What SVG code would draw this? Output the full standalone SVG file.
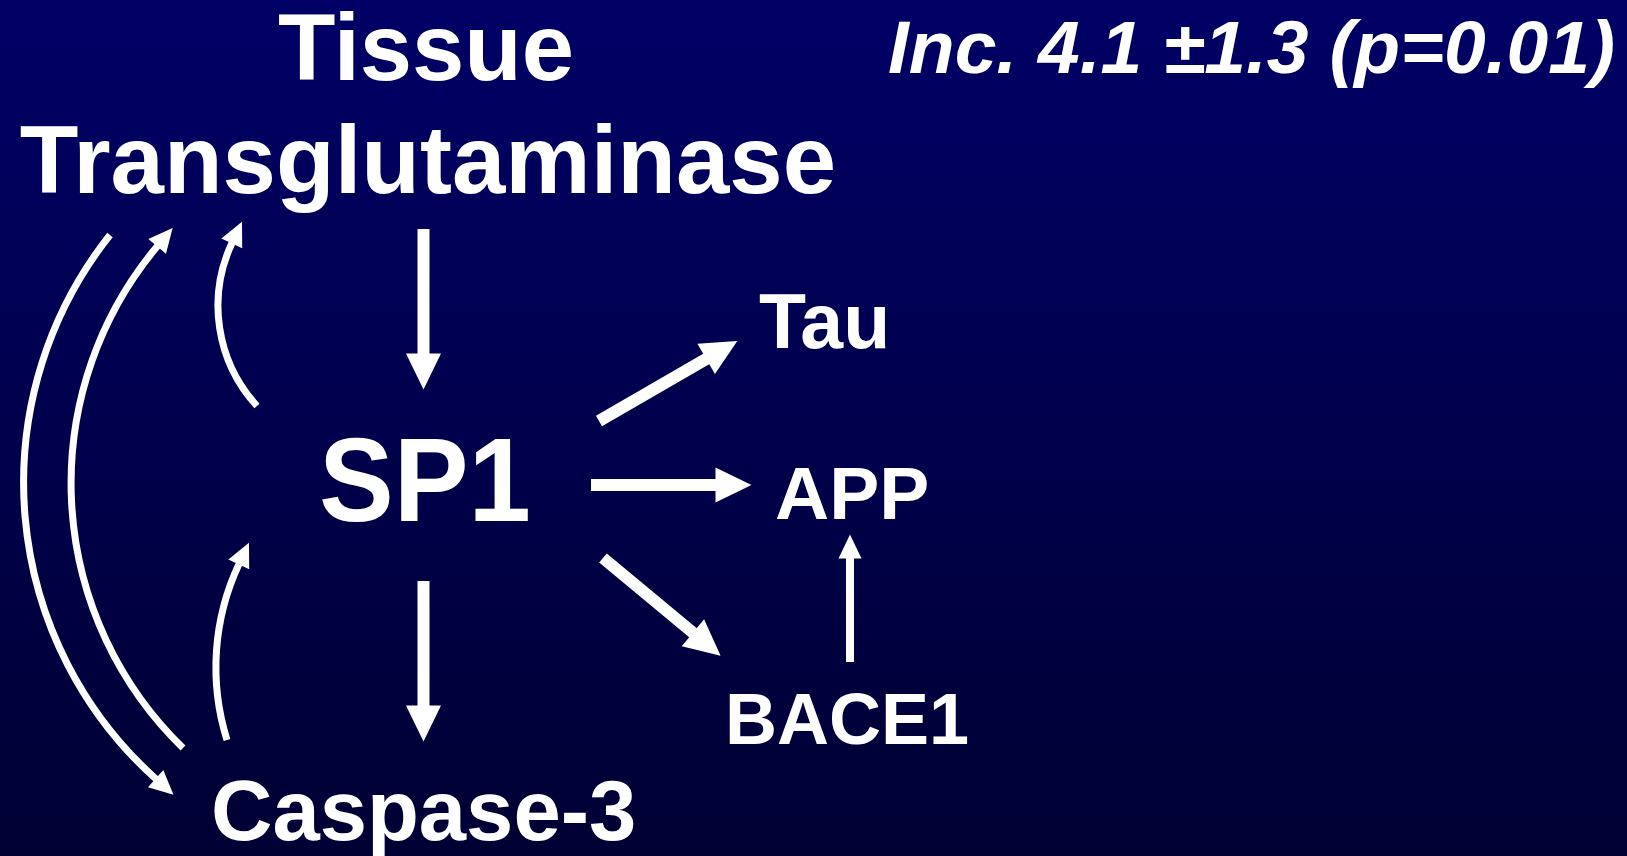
<svg xmlns="http://www.w3.org/2000/svg" width="1627" height="856" viewBox="0 0 1627 856">
<defs>
<linearGradient id="bg" x1="0" y1="0" x2="0" y2="1">
<stop offset="0" stop-color="#000066"/>
<stop offset="1" stop-color="#000033"/>
</linearGradient>
<marker id="big" markerUnits="userSpaceOnUse" markerWidth="36" markerHeight="35" viewBox="0 0 36 35" refX="0.5" refY="17.5" orient="auto" overflow="visible">
<path d="M0,0 L36,17.5 L0,35 Z" fill="#fff"/>
</marker>
<marker id="small" markerUnits="userSpaceOnUse" markerWidth="24" markerHeight="23" viewBox="0 0 24 23" refX="0.5" refY="11.5" orient="auto" overflow="visible">
<path d="M0,0 L24,11.5 L0,23 Z" fill="#fff"/>
</marker>
<style>
.t{font-family:"Liberation Sans",Arial,sans-serif;font-weight:bold;fill:#fff}
.thick{stroke:#fff;stroke-width:12;fill:none;marker-end:url(#big)}
.thin{stroke:#fff;stroke-width:8;fill:none;marker-end:url(#small)}
.arc{stroke:#fff;stroke-width:7;fill:none;marker-end:url(#small)}
</style>
</defs>
<rect x="0" y="0" width="1627" height="856" fill="url(#bg)"/>
<g id="tg"><text class="t" x="426" y="80" font-size="94" text-anchor="middle">Tissue</text><text class="t" x="428" y="193" font-size="96" text-anchor="middle">Transglutaminase</text></g>
<g id="inc"><text class="t" x="888" y="73" font-size="75" font-style="italic">Inc. 4.1 ±1.3 (p=0.01)</text></g>
<g id="sp1"><text class="t" x="319" y="521" font-size="118" textLength="212" lengthAdjust="spacingAndGlyphs">SP1</text></g>
<g id="tau"><text class="t" x="759" y="348" font-size="77">Tau</text></g>
<g id="app"><text class="t" x="775" y="519" font-size="75">APP</text></g>
<g id="bace1"><text class="t" x="725" y="744" font-size="72">BACE1</text></g>
<g id="casp"><text class="t" x="211" y="840" font-size="85">Caspase-3</text></g>
<g id="connectors">
<line class="thick" x1="423.5" y1="229" x2="423.5" y2="354"/>
<line class="thick" x1="423.5" y1="581" x2="423.5" y2="706"/>
<line class="thick" x1="599" y1="421" x2="706.6" y2="358.7"/>
<line class="thick" x1="591" y1="485" x2="716" y2="485"/>
<line class="thick" x1="603" y1="558" x2="693.3" y2="633"/>
<line class="thin" x1="850" y1="662" x2="850" y2="558"/>
<path class="arc" d="M110,235 A398,398 0 0 0 156,779"/>
<path class="arc" d="M183,748 A369,369 0 0 1 157.5,246"/>
<path class="arc" d="M257,406 A148,148 0 0 1 232,243"/>
<path class="arc" d="M227,740 A243,243 0 0 1 239,564"/>
</g>
</svg>
